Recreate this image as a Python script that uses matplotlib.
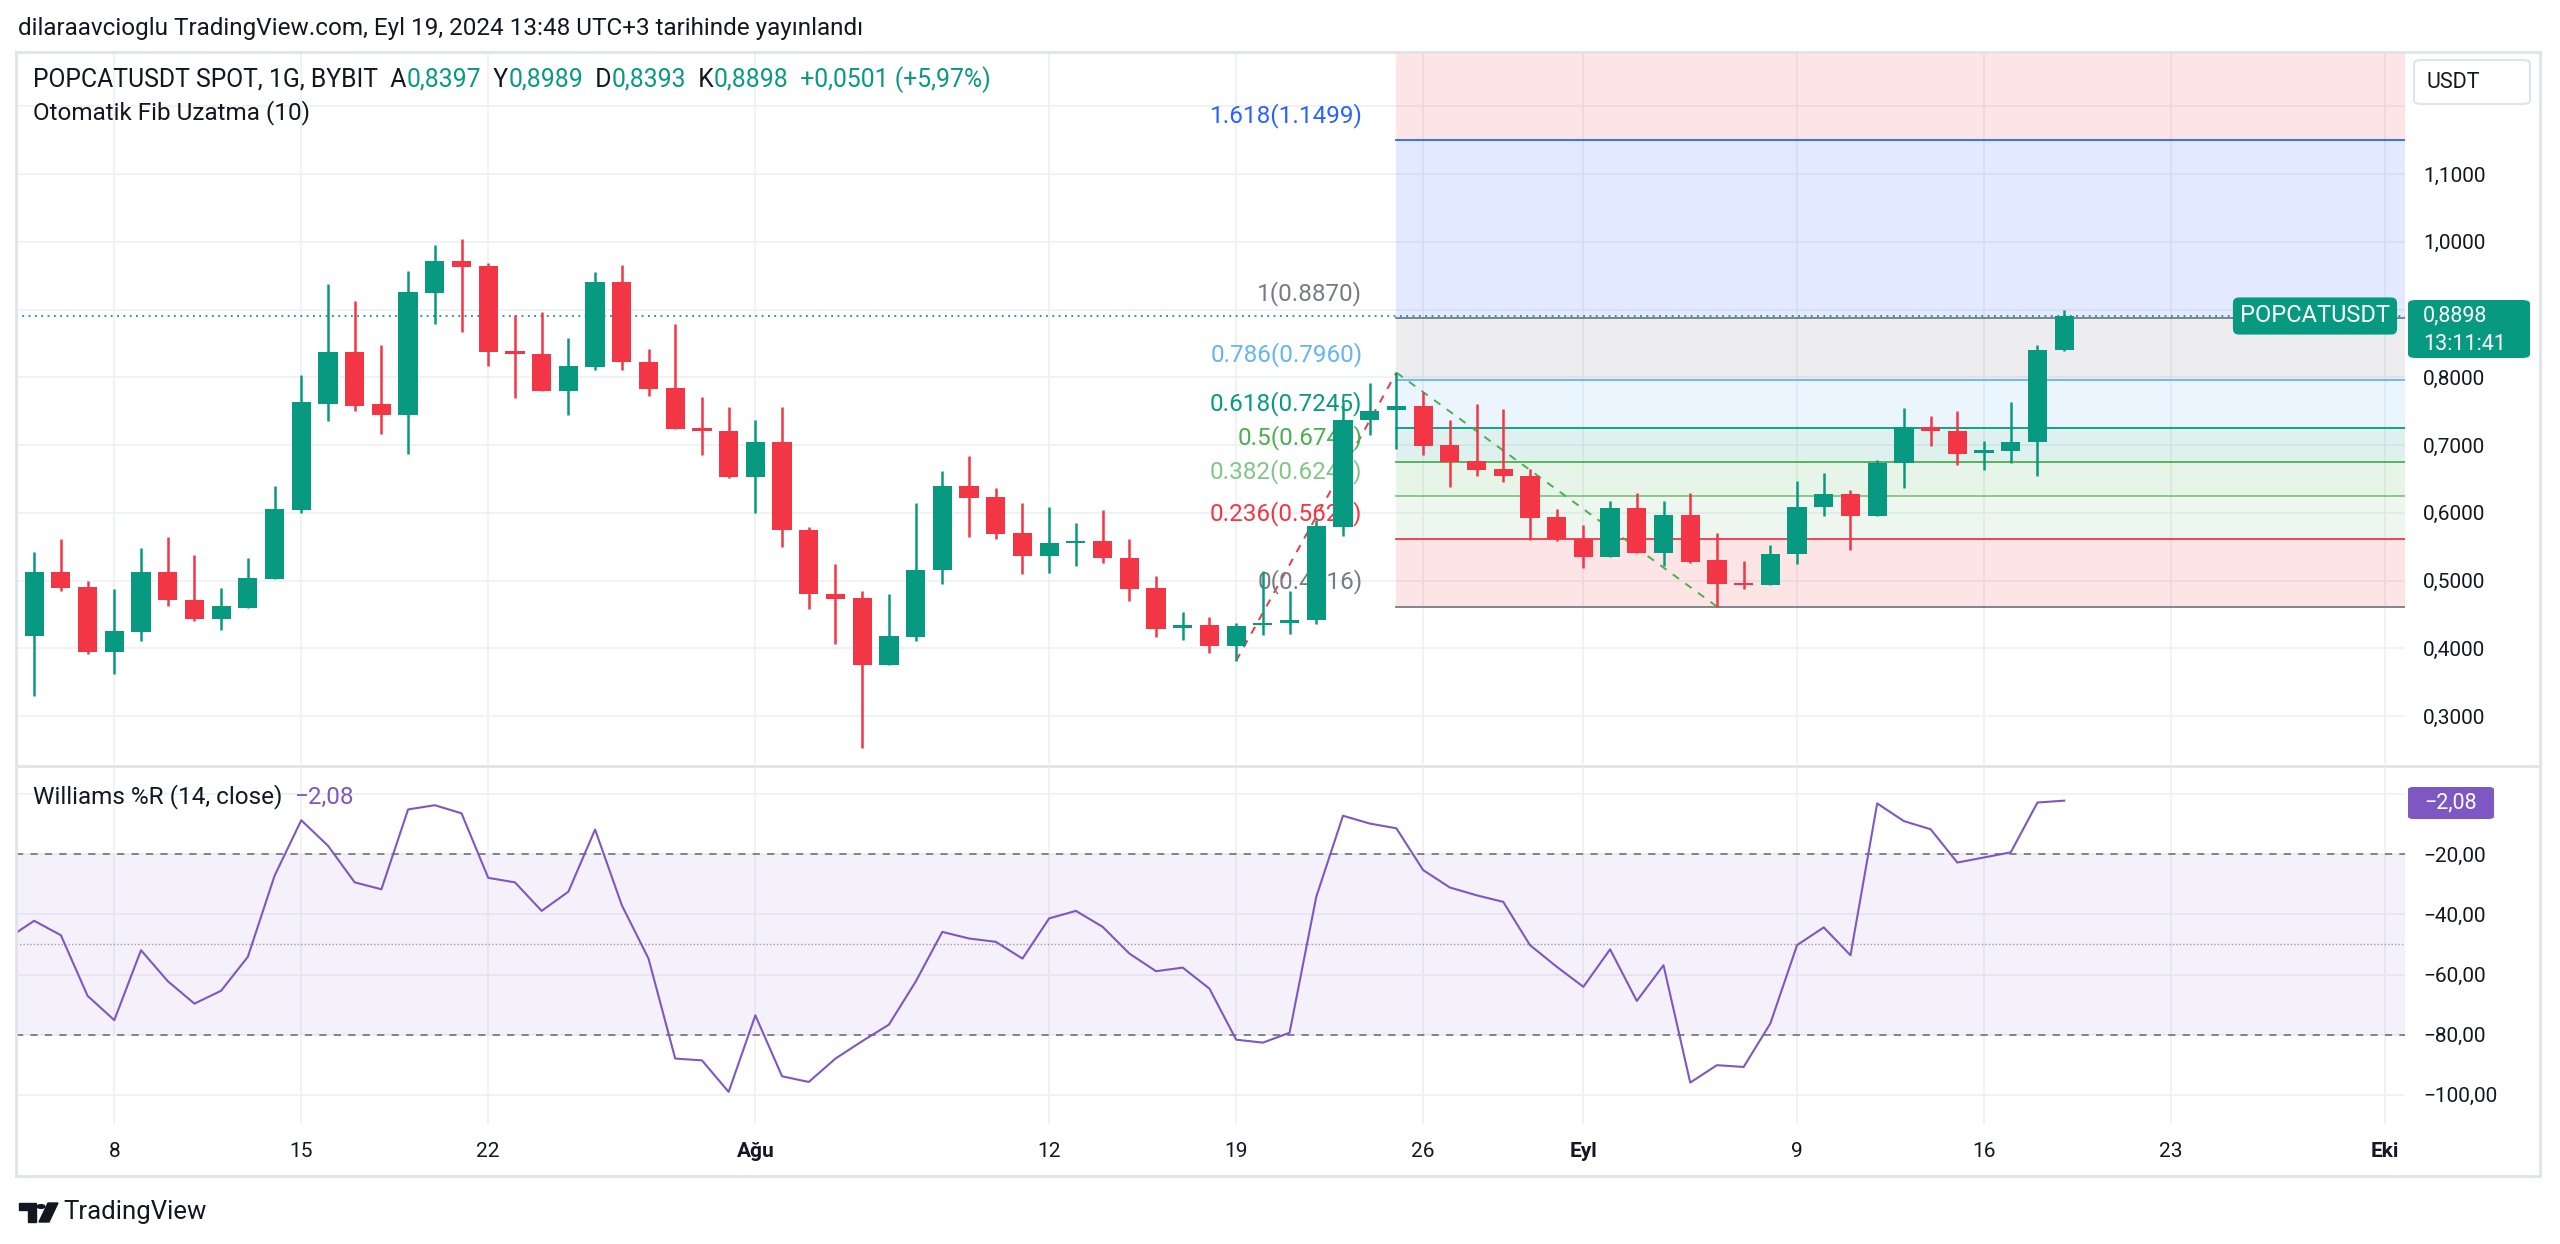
import numpy as np
import matplotlib.pyplot as plt
from matplotlib.patches import FancyBboxPatch, Polygon, Circle
from matplotlib.lines import Line2D
from matplotlib.text import Annotation

plt.rcParams['font.family'] = ['Roboto', 'DejaVu Sans']

# daily candles, 2024-07-05 .. 2024-09-19
start = np.datetime64('2024-07-05')
opens = [0.418, 0.512, 0.491, 0.394, 0.424, 0.513, 0.472, 0.444, 0.460, 0.503,
         0.604, 0.761, 0.837, 0.760, 0.745, 0.925, 0.972, 0.964, 0.839, 0.835,
         0.780, 0.815, 0.941, 0.823, 0.784, 0.725, 0.721,
         0.653, 0.705, 0.575, 0.480, 0.474, 0.376, 0.417, 0.515, 0.639, 0.623,
         0.570, 0.536, 0.556, 0.559, 0.534, 0.489, 0.430, 0.434, 0.403, 0.434,
         0.437, 0.442, 0.579, 0.737, 0.751, 0.758, 0.700, 0.676, 0.664, 0.655, 0.594,
         0.562, 0.535, 0.607, 0.540, 0.597, 0.530, 0.497, 0.493, 0.539, 0.608,
         0.628, 0.595, 0.673, 0.727, 0.720, 0.688, 0.691, 0.704, 0.8397]
highs = [0.542, 0.561, 0.500, 0.487, 0.548, 0.565, 0.538, 0.489, 0.533, 0.639,
         0.804, 0.938, 0.912, 0.847, 0.957, 0.995, 1.004, 0.968, 0.892, 0.897,
         0.858, 0.956, 0.965, 0.841, 0.878, 0.771, 0.756,
         0.737, 0.756, 0.579, 0.524, 0.484, 0.480, 0.615, 0.661, 0.684, 0.637,
         0.615, 0.609, 0.585, 0.604, 0.561, 0.506, 0.453, 0.446, 0.437, 0.514,
         0.485, 0.589, 0.763, 0.792, 0.807, 0.778, 0.737, 0.760, 0.753, 0.665, 0.605,
         0.582, 0.617, 0.629, 0.617, 0.629, 0.570, 0.529, 0.553, 0.647, 0.658,
         0.634, 0.678, 0.754, 0.743, 0.750, 0.706, 0.763, 0.848, 0.8989]
lows = [0.329, 0.484, 0.392, 0.362, 0.411, 0.463, 0.441, 0.427, 0.460, 0.503,
        0.599, 0.736, 0.750, 0.716, 0.687, 0.878, 0.867, 0.817, 0.770, 0.779,
        0.744, 0.811, 0.811, 0.773, 0.724, 0.685, 0.652,
        0.600, 0.550, 0.458, 0.407, 0.253, 0.376, 0.411, 0.495, 0.564, 0.561,
        0.509, 0.511, 0.522, 0.526, 0.470, 0.417, 0.412, 0.393, 0.3816, 0.420,
        0.421, 0.436, 0.566, 0.715, 0.694, 0.686, 0.638, 0.654, 0.646, 0.560, 0.558,
        0.519, 0.535, 0.540, 0.522, 0.526, 0.4616, 0.488, 0.493, 0.524, 0.595,
        0.545, 0.595, 0.636, 0.699, 0.670, 0.663, 0.673, 0.654, 0.8393]
closes = [0.512, 0.489, 0.394, 0.425, 0.513, 0.471, 0.444, 0.462, 0.504, 0.606,
          0.763, 0.837, 0.758, 0.745, 0.926, 0.972, 0.963, 0.838, 0.834, 0.780,
          0.816, 0.941, 0.822, 0.783, 0.724, 0.720, 0.653,
          0.705, 0.575, 0.480, 0.473, 0.376, 0.418, 0.516, 0.639, 0.622, 0.568,
          0.536, 0.556, 0.559, 0.533, 0.488, 0.429, 0.434, 0.403, 0.433, 0.437,
          0.442, 0.580, 0.737, 0.750, 0.758, 0.699, 0.675, 0.663, 0.654, 0.593, 0.561,
          0.535, 0.607, 0.540, 0.597, 0.528, 0.495, 0.494, 0.539, 0.609, 0.628,
          0.595, 0.673, 0.727, 0.720, 0.687, 0.692, 0.705, 0.8397, 0.8898]

# Williams %R (14), starts one day earlier (2024-07-04)
wr_start = np.datetime64('2024-07-04')
wr = [-48.0,
      -42.1, -46.9, -67.1, -75.2, -51.9, -62.2, -69.7, -65.4, -54.1, -27.1,
      -8.6, -17.1, -29.3, -31.6, -5.0, -3.6, -6.3, -27.8, -29.3, -38.8,
      -32.4, -11.7, -36.9, -54.7, -88.0, -88.6, -99.1,
      -73.6, -93.9, -95.8, -88.0, -82.2, -76.7, -62.4, -45.8, -48.0, -49.1,
      -54.7, -41.3, -38.8, -44.1, -53.0, -58.9, -57.7, -64.7, -81.7, -82.7,
      -79.4, -34.1, -7.1, -9.7, -11.3, -25.2, -31.0, -33.6, -35.8, -50.2, -57.4,
      -64.1, -51.6, -68.8, -56.9, -96.0, -90.2, -90.8, -76.3, -50.2, -44.3,
      -53.6, -3.0, -8.9, -11.6, -22.7, -21.0, -19.3, -2.7, -2.08]

# auto fib extension
fib_levels = [0, 0.236, 0.382, 0.5, 0.618, 0.786, 1, 1.618]
fib_colors = ['#787b86', '#f23645', '#81c784', '#4caf50', '#089981', '#64b5f6', '#787b86', '#2962ff']
fib_top_color = '#f23645'
fib_base = 0.4616
fib_range = 0.4254
piv_a = ('2024-08-19', 0.3816)
piv_b = ('2024-08-25', 0.8070)
piv_c = ('2024-09-06', 0.4616)

tick_dates = ['2024-07-08', '2024-07-15', '2024-07-22', '2024-08-01', '2024-08-12', '2024-08-19',
              '2024-08-26', '2024-09-01', '2024-09-09', '2024-09-16', '2024-09-23', '2024-10-01']
tick_labels = ['8', '15', '22', 'Ağu', '12', '19', '26', 'Eyl', '9', '16', '23', 'Eki']
month_labels = ['Ağu', 'Eyl', 'Eki']

price_ticks = [0.3, 0.4, 0.5, 0.6, 0.7, 0.8, 1.0, 1.1]
wr_ticks = [-20, -40, -60, -80, -100]

GREEN = '#089981'
RED = '#f23645'
PURPLE = '#7e57c2'
TXT = '#131722'
GRID = '#eef0f4'
W, H = 2560, 1244


def day(d):
    return (np.datetime64(d) - start).astype(int)


def fx(x):
    return x / W


def fy(y):
    return 1 - y / H


fig = plt.figure(figsize=(W / 100, H / 100), dpi=100)
ax = fig.add_axes([fx(16), fy(764), fx(2405) - fx(16), fy(52) - fy(764)])
axw = fig.add_axes([fx(16), fy(1124), fx(2405) - fx(16), fy(768) - fy(1124)])

x = np.arange(len(closes))
xlim = (-0.68, 88.76)
tick_x = [day(d) for d in tick_dates]

for a in (ax, axw):
    a.set_xlim(*xlim)
    for s in a.spines.values():
        s.set_visible(False)
    a.set_xticks(tick_x)
    a.grid(True, color=GRID, lw=1.2, zorder=0)
    a.set_axisbelow(True)
    a.yaxis.tick_right()
    a.tick_params(length=0, labelsize=15, colors=TXT, pad=13)

# ---- price pane
ax.set_ylim(0.2293, 1.2800)
ax.set_yticks(price_ticks)
ax.set_yticklabels([f'{v:.4f}'.replace('.', ',') for v in price_ticks])
for v in [0.9, 1.2]:
    ax.axhline(v, color=GRID, lw=1.2, zorder=0)
ax.set_xticklabels([])

# fib zones
x0 = day(piv_b[0])
lv = [fib_base + l * fib_range for l in fib_levels]
for i in range(len(lv)):
    top = lv[i + 1] if i + 1 < len(lv) else 2.0
    col = fib_colors[i + 1] if i + 1 < len(lv) else fib_top_color
    ax.fill_between([x0, xlim[1]], lv[i], top, color=col, alpha=0.13, lw=0, zorder=1)
for l, v, c in zip(fib_levels, lv, fib_colors):
    ax.plot([x0, xlim[1]], [v, v], color=c, lw=1.3, zorder=2)
    lab = f'{l:g}({v:.4f})'
    ax.annotate(lab, xy=(x0, v), xytext=(-24.5, 18), textcoords='offset points',
                ha='right', va='center', color=c, fontsize=17.5, zorder=2.5)

ax.plot([day(piv_a[0]), day(piv_b[0])], [piv_a[1], piv_b[1]], color=RED, lw=1.4,
        ls=(0, (4, 4)), zorder=2)
ax.plot([day(piv_b[0]), day(piv_c[0])], [piv_b[1], piv_c[1]], color='#4caf50', lw=1.4,
        ls=(0, (4, 4)), zorder=2)

# candles
o = np.array(opens)
c = np.array(closes)
cols = [GREEN if cc >= oo else RED for oo, cc in zip(o, c)]
ax.vlines(x, lows, highs, colors=cols, lw=1.8, zorder=3)
bh = np.maximum(np.abs(c - o), 0.003)
ax.bar(x, bh, bottom=np.minimum(o, c), width=0.72, color=cols, lw=0, zorder=4)

# last price line
ax.axhline(closes[-1], color=GREEN, lw=1.3, ls=(0, (1, 2.5)), zorder=2)

# ---- williams %r pane
axw.set_ylim(-109.8, 8.8)
axw.set_yticks(wr_ticks)
axw.set_yticklabels([f'−{abs(v)},00' for v in wr_ticks])
axw.axhline(0, color=GRID, lw=1.2, zorder=0)
axw.axhspan(-80, -20, color=PURPLE, alpha=0.08, lw=0, zorder=1)
axw.axhline(-20, color='#787b86', lw=1.3, ls=(0, (4, 4)), zorder=2)
axw.axhline(-80, color='#787b86', lw=1.3, ls=(0, (4, 4)), zorder=2)
axw.axhline(-50, color='#787b86', lw=1.0, ls=(0, (1, 1.5)), alpha=0.7, zorder=2)
wx = (np.arange(len(wr)) + (wr_start - start).astype(int))
axw.plot(wx, wr, color=PURPLE, lw=1.5, zorder=3)
axw.set_xticklabels(tick_labels)
for t in axw.get_xticklabels():
    if t.get_text() in month_labels:
        t.set_fontweight('bold')

# ---- frame lines
for xs, ys in [((16, 2540), (52, 52)), ((16, 2540), (1176, 1176)), ((16, 16), (52, 1176)),
               ((2540, 2540), (52, 1176)), ((16, 2540), (766, 766))]:
    fig.add_artist(Line2D([fx(xs[0]), fx(xs[1])], [fy(ys[0]), fy(ys[1])],
                          color='#e0e3eb', lw=2))


# ---- texts
def row(parts, x0, y0, size):
    prev = fig.text(fx(x0), fy(y0), parts[0][0], color=parts[0][1], fontsize=size, va='center')
    for s, col in parts[1:]:
        prev = fig.add_artist(Annotation(s, xy=(1, 0.5), xycoords=prev, va='center',
                                         ha='left', color=col, fontsize=size))


fig.text(fx(18), fy(29), 'dilaraavcioglu TradingView.com, Eyl 19, 2024 13:48 UTC+3 tarihinde yayınlandı',
         fontsize=17.5, color=TXT, va='center')
row([('POPCATUSDT SPOT, 1G, BYBIT  A', TXT), ('0,8397', GREEN), ('  Y', TXT), ('0,8989', GREEN),
     ('  D', TXT), ('0,8393', GREEN), ('  K', TXT), ('0,8898', GREEN),
     ('  +0,0501 (+5,97%)', GREEN)], 33, 80, 17.8)
fig.text(fx(33), fy(113), 'Otomatik Fib Uzatma (10)', fontsize=17.5, color=TXT, va='center')
row([('Williams %R (14, close)  ', TXT), ('−2,08', PURPLE)], 33, 797, 17.5)

# usdt box
fig.add_artist(FancyBboxPatch((fx(2414), fy(104)), fx(116), 44 / H,
                              boxstyle='round,pad=0,rounding_size=0.003',
                              fc='white', ec='#e0e3eb', lw=1.5))
fig.text(fx(2427), fy(82), 'USDT', fontsize=15.5, color=TXT, va='center')

# last price boxes
fig.text(fx(2390), fy(316), 'POPCATUSDT', fontsize=17, color='white', ha='right', va='center',
         bbox=dict(boxstyle='round,pad=0.3,rounding_size=0.25', fc=GREEN, ec='none'))
fig.add_artist(FancyBboxPatch((fx(2408), fy(358)), fx(122), 58 / H,
                              boxstyle='round,pad=0,rounding_size=0.003', fc=GREEN, ec='none'))
fig.text(fx(2423), fy(316), '0,8898', fontsize=15.5, color='white', va='center')
fig.text(fx(2423), fy(344), '13:11:41', fontsize=15.5, color='white', va='center')

# williams badge
fig.add_artist(FancyBboxPatch((fx(2408), fy(819)), fx(86), 32 / H,
                              boxstyle='round,pad=0,rounding_size=0.002', fc=PURPLE, ec='none'))
fig.text(fx(2451), fy(803), '−2,08', fontsize=15.5, color='white', ha='center', va='center')

# logo
logo = [Polygon([(fx(19), fy(1203)), (fx(36), fy(1203)), (fx(36), fy(1222)), (fx(28), fy(1222)),
                 (fx(28), fy(1210)), (fx(19), fy(1210))], closed=True),
        Circle((fx(41), fy(1206.5)), 3.8 / W),
        Polygon([(fx(48), fy(1203)), (fx(58), fy(1203)), (fx(49), fy(1222)), (fx(39), fy(1222))],
                closed=True)]
for p in logo:
    p.set_color(TXT)
    fig.add_artist(p)
fig.text(fx(63), fy(1212), 'TradingView', fontsize=18.5, color=TXT, va='center')

fig.savefig('out.png', dpi=100, facecolor='white')
